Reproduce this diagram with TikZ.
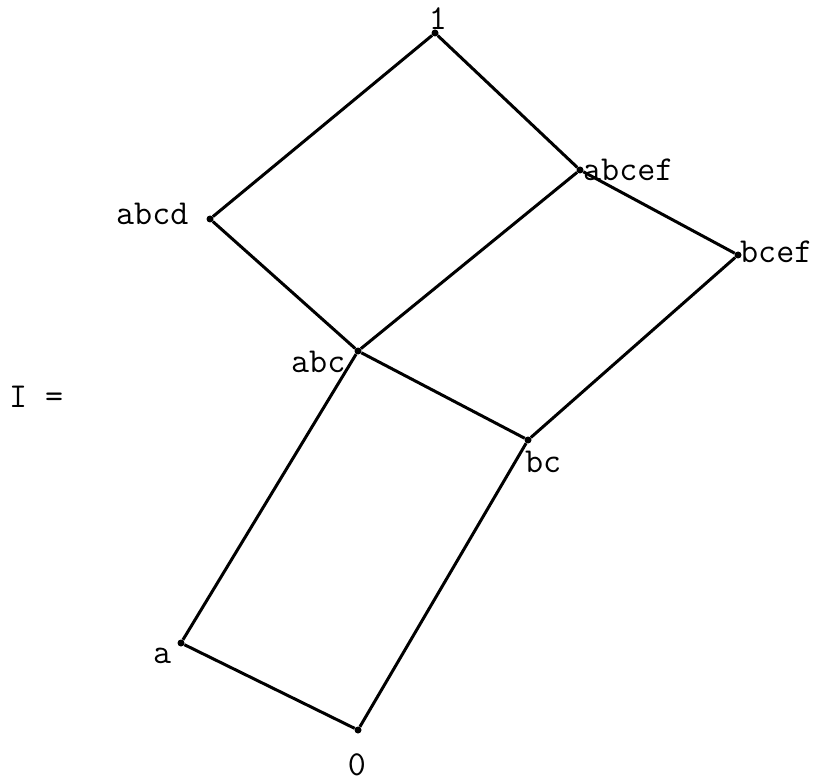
\documentclass[tikz,border=0pt]{standalone}
\begin{document}
\begin{tikzpicture}[x=1pt,y=-1pt,
  pt/.style={circle,fill=black,inner sep=0pt,minimum size=7pt},
  lbl/.style={inner sep=0pt,font=\ttfamily\fontsize{35}{40}\selectfont},
  edge/.style={line width=3pt}]
\useasboundingbox (0,0) rectangle (818,783);
\node[pt] (one) at (435,33) {};
\node[pt] (abcd) at (210,219) {};
\node[pt] (abcef) at (580,170) {};
\node[pt] (bcef) at (738,255) {};
\node[pt] (abc) at (358,351) {};
\node[pt] (bc) at (528,440) {};
\node[pt] (a) at (181,643) {};
\node[pt] (zero) at (358,730) {};
\draw[edge] (one) -- (abcd);
\draw[edge] (one) -- (abcef);
\draw[edge] (abcd) -- (abc);
\draw[edge] (abcef) -- (abc);
\draw[edge] (abcef) -- (bcef);
\draw[edge] (abc) -- (bc);
\draw[edge] (bcef) -- (bc);
\draw[edge] (abc) -- (a);
\draw[edge] (bc) -- (zero);
\draw[edge] (a) -- (zero);
\node[lbl,anchor=base] (Lone) at (438,30) {1};
\node[lbl,anchor=base west] (Labcd) at (116,225) {abcd};
\node[lbl,anchor=base west] (Labcef) at (583,181) {abcef};
\node[lbl,anchor=base west] (Lbcef) at (740,262) {bcef};
\node[lbl,anchor=base west] (Labc) at (291,372) {abc};
\node[lbl,anchor=base west] (Lbc) at (525,472) {bc};
\node[lbl,anchor=base west] (La) at (153,663) {a};
\node[lbl,anchor=base] (Lzero) at (357,775) {0};
\node[lbl,anchor=base west] (LI) at (9,407) {I =};
\end{tikzpicture}
\end{document}
